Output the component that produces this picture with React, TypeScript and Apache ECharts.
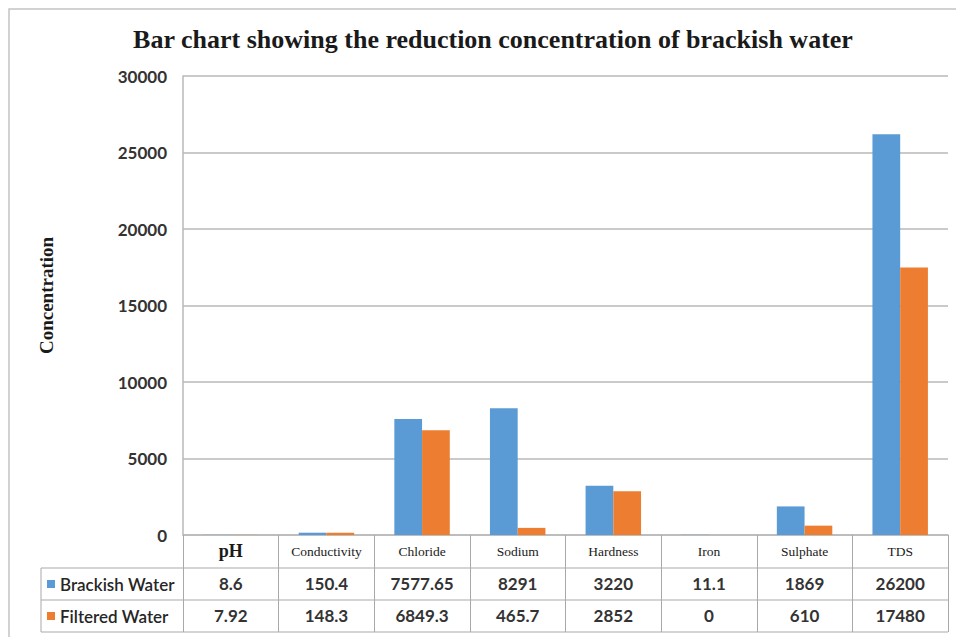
import React, { useEffect, useRef } from "react";
import * as echarts from "echarts";

const categories = ["pH", "Conductivity", "Chloride", "Sodium", "Hardness", "Iron", "Sulphate", "TDS"];
const brackishWater = [8.6, 150.4, 7577.65, 8291, 3220, 11.1, 1869, 26200];
const filteredWater = [7.92, 148.3, 6849.3, 465.7, 2852, 0, 610, 17480];
const brackishLabels = ["8.6", "150.4", "7577.65", "8291", "3220", "11.1", "1869", "26200"];
const filteredLabels = ["7.92", "148.3", "6849.3", "465.7", "2852", "0", "610", "17480"];
const seriesNames = ["Brackish Water", "Filtered Water"];
const yTicks = { min: 0, max: 30000, interval: 5000 };

const BLUE = "#5B9BD5";
const ORANGE = "#ED7D31";
const GRID_COLOR = "#b9b9b9";
const TABLE_COLOR = "#a9a9a9";
const NUM_FONT = "Lato";
const SERIF = "'Liberation Serif', 'Times New Roman', serif";

const G = { left: 183, top: 76, right: 8, bottom: 102 };
const ROW = 32;

export default function App() {
  const ref = useRef<HTMLDivElement>(null);
  useEffect(() => {
    if (!ref.current) return;
    const chart = echarts.init(ref.current, undefined, { renderer: "svg" });
    const W = 956, H = 637;
    const plotRight = W - G.right;
    const axisY = H - G.bottom;
    const tableLeft = 41;
    const lineStyle = { stroke: TABLE_COLOR, lineWidth: 1 };
    const hLines = [1, 2, 3].map((i) => ({
      type: "line",
      shape: { x1: tableLeft, y1: axisY + ROW * i + 1, x2: plotRight, y2: axisY + ROW * i + 1 },
      style: lineStyle,
      silent: true,
    }));
    const numAxis = (labels: string[], offset: number) => ({
      type: "category",
      data: categories,
      position: "bottom",
      offset,
      gridIndex: 0,
      axisLine: { show: false },
      axisTick: { show: false },
      axisLabel: {
        interval: 0,
        margin: 16,
        verticalAlign: "middle",
        fontFamily: NUM_FONT,
        fontWeight: "bold",
        fontSize: 17,
        color: "#333333",
        formatter: (_v: string, i: number) => labels[i],
      },
    });
    chart.setOption({
      animation: false,
      backgroundColor: "#ffffff",
      title: {
        text: "Bar chart showing the reduction concentration of brackish water",
        left: 488,
        textAlign: "center",
        top: 21,
        textStyle: { fontFamily: SERIF, fontWeight: "bold", fontSize: 26, color: "#1a1a1a" },
      },
      legend: {
        orient: "vertical",
        left: 47,
        top: axisY + 39,
        padding: 0,
        itemWidth: 8,
        itemHeight: 8,
        itemGap: 12,
        icon: "rect",
        data: seriesNames,
        textStyle: { fontFamily: NUM_FONT, fontSize: 17, fontWeight: 600, color: "#262626", lineHeight: 20 },
      },
      grid: { left: G.left, top: G.top, right: G.right, bottom: G.bottom, containLabel: false },
      xAxis: [
        {
          type: "category",
          data: categories,
          position: "bottom",
          axisLine: { show: true, lineStyle: { color: GRID_COLOR, width: 1.5 } },
          axisTick: { show: true, interval: 0, length: ROW * 3 + 1, alignWithLabel: false, lineStyle: { color: TABLE_COLOR, width: 1 } },
          axisLabel: {
            interval: 0,
            margin: 16,
            verticalAlign: "middle",
            fontFamily: SERIF,
            fontSize: 13.5,
            color: "#1a1a1a",
            formatter: (v: string) => (v === "pH" ? "{big|pH}" : v),
            rich: { big: { fontFamily: SERIF, fontSize: 18, fontWeight: "bold", color: "#1a1a1a" } },
          },
        },
        numAxis(brackishLabels, ROW),
        numAxis(filteredLabels, ROW * 2),
      ],
      yAxis: {
        type: "value",
        min: yTicks.min,
        max: yTicks.max,
        interval: yTicks.interval,
        name: "Concentration",
        nameLocation: "middle",
        nameRotate: 90,
        nameGap: 127,
        nameTextStyle: { fontFamily: SERIF, fontWeight: "bold", fontSize: 19, color: "#1a1a1a", padding: [0, 0, 0, 20] },
        axisLine: { show: true, lineStyle: { color: GRID_COLOR, width: 1.5 } },
        axisTick: { show: false },
        splitLine: { show: true, lineStyle: { color: GRID_COLOR, width: 1.5 } },
        axisLabel: {
          margin: 16,
          fontFamily: NUM_FONT,
          fontWeight: "bold",
          fontSize: 17,
          color: "#333333",
          formatter: (v: number) => String(v),
        },
      },
      series: [
        { name: seriesNames[0], type: "bar", data: brackishWater, itemStyle: { color: BLUE }, barGap: "0%", barCategoryGap: "42%" },
        { name: seriesNames[1], type: "bar", data: filteredWater, itemStyle: { color: ORANGE }, barGap: "0%", barCategoryGap: "42%" },
      ],
      graphic: [
        {
          type: "rect",
          shape: { x: 9, y: 9, width: 1000, height: 700 },
          style: { fill: "none", stroke: "#c4c4c4", lineWidth: 1.5 },
          silent: true,
          z: -10,
        },
        ...hLines,
        {
          type: "line",
          shape: { x1: tableLeft, y1: axisY + ROW + 1, x2: tableLeft, y2: axisY + ROW * 3 + 1 },
          style: lineStyle,
          silent: true,
        },
      ],
    });
    return () => chart.dispose();
  }, []);
  return <div ref={ref} style={{ position: "fixed", left: 0, top: 0, width: 956, height: 637 }} />;
}
